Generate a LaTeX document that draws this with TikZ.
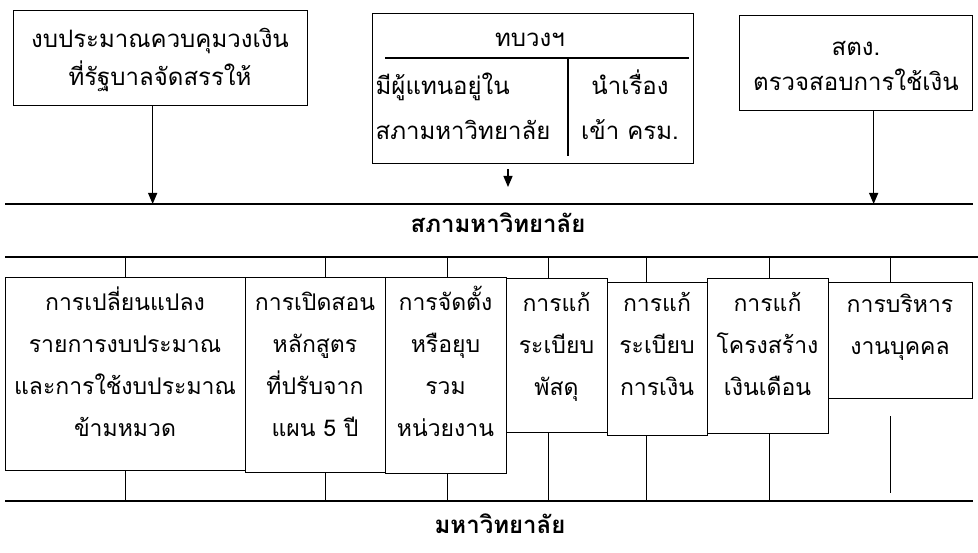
\documentclass[tikz,border=0pt]{standalone}
\usepackage{fontspec}
\newfontfamily\thai[Script=Thai]{Loma}
\usetikzlibrary{arrows.meta}
\begin{document}
\begin{tikzpicture}[x=1pt,y=-1pt,line width=1.3pt,
  box/.style={draw,line width=1.3pt,inner sep=0pt,anchor=north west},
  txt/.style={font=\thai\fontsize{23}{42}\selectfont,align=center,inner sep=0pt,anchor=base},
  ttl/.style={font=\thai\bfseries\fontsize{24}{30}\selectfont,inner sep=0pt,anchor=base},
  arr/.style={-{Triangle[length=11pt,width=9pt]}}]
\useasboundingbox (0,0) rectangle (978,553);
% reference lines
\coordinate (L1a) at (5,204); \coordinate (L1b) at (973,204);
\coordinate (L2a) at (5,257); \coordinate (L2b) at (978,257);
\coordinate (L3a) at (5,501); \coordinate (L3b) at (973,501);
\draw (L1a) -- (L1b);
\draw (L2a) -- (L2b);
\draw (L3a) -- (L3b);
% top boxes
\node[box,minimum width=294pt,minimum height=95pt] (g) at (13,10) {};
\node[txt,text width=294pt,font=\thai\fontsize{24}{38}\selectfont] (gt) at (160,48) {งบประมาณควบคุมวงเงิน\\ที่รัฐบาลจัดสรรให้};
\node[box,minimum width=321pt,minimum height=150pt] (m) at (372,13) {};
\node[txt,font=\thai\fontsize{24}{30}\selectfont] (mt) at (530,47) {ทบวงฯ};
\node[txt,text width=190pt,align=left,anchor=base west,font=\thai\fontsize{24}{45}\selectfont] (ml) at (375,95) {มีผู้แทนอยู่ใน\\สภามหาวิทยาลัย};
\node[txt,text width=120pt,font=\thai\fontsize{24}{45}\selectfont] (mr) at (630,95) {นำเรื่อง\\เข้า ครม.};
\draw ([xshift=13pt,yshift=-45pt]m.north west) -- ([xshift=-5pt,yshift=-45pt]m.north east);
\draw ([xshift=196pt,yshift=-45pt]m.north west) -- ([xshift=196pt,yshift=8pt]m.south west);
\node[box,minimum width=233pt,minimum height=95pt] (s) at (739,15) {};
\node[txt,text width=233pt,font=\thai\fontsize{24}{35}\selectfont] (st) at (856,56) {สตง.\\ตรวจสอบการใช้เงิน};
% arrows
\path ([xshift=-8pt]g.south) coordinate (ga);
\draw[arr] (ga) -- (ga |- L1a);
\coordinate (ma) at (508,187);
\draw[arr] (ma |- m.south) ++(0,5) -- (ma);
\path ([xshift=17.5pt]s.south) coordinate (sa);
\draw[arr] (sa) -- (sa |- L1a);
% titles
\node[ttl] (t1) at (498,233) {สภามหาวิทยาลัย};
\node[ttl] (t2) at (500,533) {มหาวิทยาลัย};
% row boxes
\node[box,minimum width=240pt,minimum height=193pt] (b1) at (5,277) {};
\node[box,minimum width=140pt,minimum height=195pt] (b2) at (245,277) {};
\node[box,minimum width=121pt,minimum height=196pt] (b3) at (385,277) {};
\node[box,minimum width=101pt,minimum height=154pt] (b4) at (506,278) {};
\node[box,minimum width=100pt,minimum height=153pt] (b5) at (607,282) {};
\node[box,minimum width=121pt,minimum height=155pt] (b6) at (707,278) {};
\node[box,minimum width=144pt,minimum height=116pt] (b7) at (828,282) {};
\node[txt,text width=240pt] (b1t) at (125,311) {การเปลี่ยนแปลง\\รายการงบประมาณ\\และการใช้งบประมาณ\\ข้ามหมวด};
\node[txt,text width=140pt] (b2t) at (315,311) {การเปิดสอน\\หลักสูตร\\ที่ปรับจาก\\แผน 5 ปี};
\node[txt,text width=121pt] (b3t) at (445.5,311) {การจัดตั้ง\\หรือยุบ\\รวม\\หน่วยงาน};
\node[txt,text width=101pt] (b4t) at (556.5,312) {การแก้\\ระเบียบ\\พัสดุ};
\node[txt,text width=100pt] (b5t) at (657,312) {การแก้\\ระเบียบ\\การเงิน};
\node[txt,text width=121pt] (b6t) at (767.5,312) {การแก้\\โครงสร้าง\\เงินเดือน};
\node[txt,text width=144pt] (b7t) at (900,313) {การบริหาร\\งานบุคคล};
% connectors
\foreach \b/\dx in {b1/0,b2/10,b3/1,b4/-9,b5/-11,b6/1} {
  \path ([xshift=\dx pt]\b.north) coordinate (tn) ([xshift=\dx pt]\b.south) coordinate (bn);
  \draw (tn) -- (tn |- L2a);
  \draw (bn) -- (bn |- L3a);
}
\path ([xshift=-10pt]b7.north) coordinate (tn7) ([xshift=-10pt,yshift=-17pt]b7.south) coordinate (bn7);
\draw (tn7) -- (tn7 |- L2a);
\draw (bn7) -- ([yshift=8pt]bn7 |- L3a);
\end{tikzpicture}
\end{document}
